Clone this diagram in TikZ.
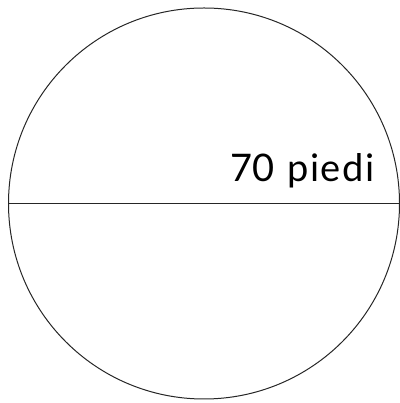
\documentclass[tikz,border=0pt]{standalone}
\usepackage{fontspec}
\setmainfont{Lato}
\begin{document}
\begin{tikzpicture}[x=1pt,y=1pt,
  outline/.style={draw=black!85,line width=1pt},
  lbl/.style={font=\fontsize{38}{40}\selectfont,inner sep=0pt,anchor=base west}]
\useasboundingbox (0,0) rectangle (399,403);
\node[circle,outline,minimum size=391pt,inner sep=0pt] (c) at (204,199.5) {};
\draw[outline] (c.west) -- (c.east);
\node[lbl] (t) at (230,221) {70\hspace{13pt}{\addfontfeatures{LetterSpace=4}piedi}};
\end{tikzpicture}
\end{document}
